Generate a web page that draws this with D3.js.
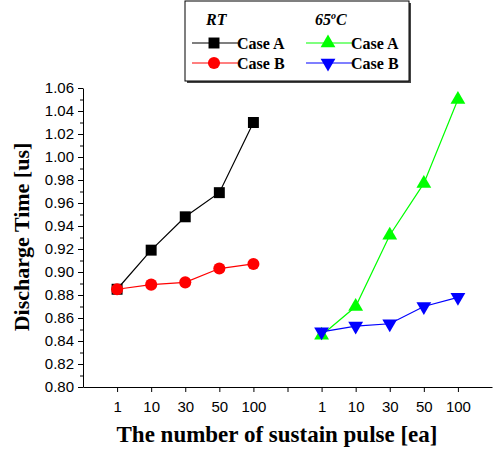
<!DOCTYPE html>
<html>
<head>
<meta charset="utf-8">
<script src="https://cdn.jsdelivr.net/npm/d3@7"></script>
<style>
  body { margin: 0; background: #fff; }
  svg { display: block; }
</style>
</head>
<body>
<svg id="chart" width="494" height="455"></svg>
<script>
// x labels: two groups of pulse counts with a gap between them
let xLabels = ["1", "10", "30", "50", "100", "", "1", "10", "30", "50", "100"];
let rtIdx = [0, 1, 2, 3, 4];
let hotIdx = [6, 7, 8, 9, 10];

let rtCaseA = [0.885, 0.919, 0.948, 0.969, 1.030];
let rtCaseB = [0.885, 0.889, 0.891, 0.903, 0.907];
let hotCaseA = [0.845, 0.870, 0.932, 0.977, 1.050];
let hotCaseB = [0.848, 0.853, 0.855, 0.870, 0.878];

let yTicks = d3.range(0.80, 1.0601, 0.02);

let svg = d3.select("#chart");
let mLeft = 83, mRight = 492, mTop = 88, mBottom = 387;

let x = d3.scaleLinear().domain([-1, 11]).range([mLeft, mRight]);
let y = d3.scaleLinear().domain([0.80, 1.06]).range([mBottom, mTop]);

let tickFont = "Liberation Sans, Arial, sans-serif";

// y axis, major + minor ticks
let yAxis = svg.append("g").attr("transform", "translate(" + mLeft + ",0)")
  .call(d3.axisLeft(y).tickValues(yTicks).tickSize(5).tickSizeOuter(0)
    .tickFormat(d3.format(".2f")));
yAxis.select(".domain").attr("stroke", "#000");
yAxis.selectAll("text").attr("font-family", tickFont)
  .attr("font-size", 15).attr("fill", "#000").attr("x", -9);

let yMinor = svg.append("g").attr("transform", "translate(" + mLeft + ",0)")
  .call(d3.axisLeft(y).tickValues(d3.range(0.81, 1.06, 0.02)).tickSize(3).tickFormat(""));
yMinor.select(".domain").remove();

// x axis
let xAxis = svg.append("g").attr("transform", "translate(0," + mBottom + ")")
  .call(d3.axisBottom(x).tickValues(d3.range(0, 11)).tickSize(5).tickSizeOuter(0)
    .tickFormat(function(d) { return xLabels[d]; }));
xAxis.select(".domain").attr("stroke", "#000");
xAxis.selectAll("text").attr("font-family", tickFont)
  .attr("font-size", 15).attr("fill", "#000").attr("dy", "1.13em");

// axis titles
let titleFont = "Liberation Serif, Times New Roman, serif";
svg.append("text")
  .attr("transform", "translate(29," + 237 + ") rotate(-90)")
  .attr("text-anchor", "middle")
  .attr("font-family", titleFont)
  .attr("font-weight", "bold").attr("font-size", 22)
  .text("Discharge Time [us]");

svg.append("text")
  .attr("x", 277).attr("y", 442)
  .attr("text-anchor", "middle")
  .attr("font-family", titleFont)
  .attr("font-weight", "bold").attr("font-size", 23)
  .text("The number of sustain pulse [ea]");

let series = [
  { idx: rtIdx, vals: rtCaseA, color: "#000", shape: d3.symbolSquare, size: 120, rot: 0 },
  { idx: rtIdx, vals: rtCaseB, color: "#ff0000", shape: d3.symbolCircle, size: 115, rot: 0 },
  { idx: hotIdx, vals: hotCaseA, color: "#00ff00", shape: d3.symbolTriangle, size: 95, rot: 0 },
  { idx: hotIdx, vals: hotCaseB, color: "#0000ff", shape: d3.symbolTriangle, size: 95, rot: 180 }
];

let line = d3.line()
  .x(function(d) { return x(d[0]); })
  .y(function(d) { return y(d[1]); });

series.forEach(function(s) {
  let pts = s.idx.map(function(v, i) { return [v, s.vals[i]]; });
  svg.append("path").datum(pts)
    .attr("d", line).attr("fill", "none")
    .attr("stroke", s.color).attr("stroke-width", 1.2);
  svg.append("g").selectAll("path").data(pts).enter().append("path")
    .attr("d", d3.symbol().type(s.shape).size(s.size))
    .attr("transform", function(d) {
      return "translate(" + x(d[0]) + "," + y(d[1]) + ") rotate(" + s.rot + ")";
    })
    .attr("fill", s.color);
});

// legend
let lg = svg.append("g");
lg.append("rect").attr("x", 187).attr("y", 3).attr("width", 224).attr("height", 80).attr("fill", "#444");
lg.append("rect").attr("x", 185).attr("y", 1).attr("width", 224).attr("height", 80)
  .attr("fill", "#fff").attr("stroke", "#000").attr("stroke-width", 1);

lg.append("text").attr("x", 206).attr("y", 25)
  .attr("font-family", titleFont).attr("font-weight", "bold").attr("font-style", "italic")
  .attr("font-size", 16).text("RT");
let hdr = lg.append("text").attr("x", 315).attr("y", 25)
  .attr("font-family", titleFont).attr("font-weight", "bold").attr("font-style", "italic")
  .attr("font-size", 16);
hdr.append("tspan").text("65");
hdr.append("tspan").attr("font-size", 10).attr("dy", -6).text("o");
hdr.append("tspan").attr("dy", 6).text("C");

let legendItems = [
  { s: series[0], lx: 192, ty: 43, label: "Case A" },
  { s: series[1], lx: 192, ty: 63, label: "Case B" },
  { s: series[2], lx: 306, ty: 43, label: "Case A" },
  { s: series[3], lx: 306, ty: 63, label: "Case B" }
];
legendItems.forEach(function(it) {
  lg.append("line").attr("x1", it.lx).attr("x2", it.lx + 46)
    .attr("y1", it.ty).attr("y2", it.ty)
    .attr("stroke", it.s.color).attr("stroke-width", 1.2);
  lg.append("path")
    .attr("d", d3.symbol().type(it.s.shape).size(it.s.size))
    .attr("transform", "translate(" + (it.lx + 22) + "," + it.ty + ") rotate(" + it.s.rot + ")")
    .attr("fill", it.s.color);
  lg.append("text").attr("x", it.lx + 45).attr("y", it.ty + 6)
    .attr("font-family", titleFont).attr("font-weight", "bold")
    .attr("font-size", 16).text(it.label);
});
</script>
</body>
</html>
